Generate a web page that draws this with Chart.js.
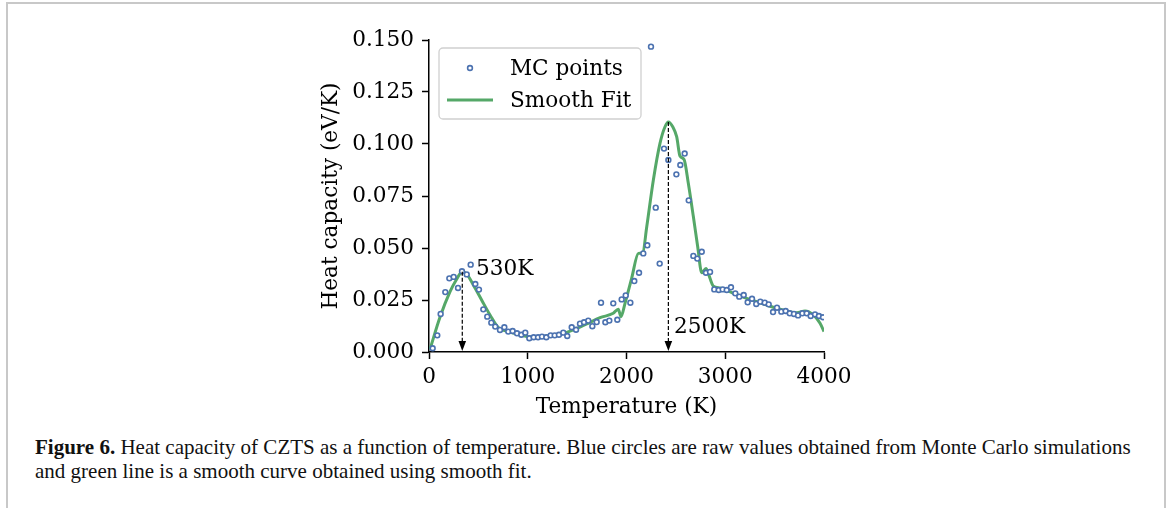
<!DOCTYPE html>
<html>
<head>
<meta charset="utf-8">
<script src="https://cdn.jsdelivr.net/npm/chart.js@4.4.1/dist/chart.umd.min.js"></script>
<style>
    html, body { margin: 0; padding: 0; background: #fff; }
    #page { position: relative; width: 1170px; height: 508px; overflow: hidden; }
    #frame { position: absolute; left: 6px; top: 2px; width: 1156px; height: 520px; border: 2px solid #c8c8c8; }
    #chartBox { position: absolute; left: 0; top: 0; width: 1170px; height: 420px; }
    #caption { position: absolute; left: 35px; top: 435px; font-family: "Liberation Serif", serif; font-size: 19.5px; line-height: 24px; color: #111; white-space: nowrap; }
</style>
</head>
<body>
<div id="page">
    <div id="frame"></div>
    <div id="chartBox"><canvas id="heatChart" width="1170" height="420"></canvas></div>
    <div id="caption"><span id="capLine1"><b>Figure 6.</b> Heat capacity of CZTS as a function of temperature. Blue circles are raw values obtained from Monte Carlo simulations</span><br>and green line is a smooth curve obtained using smooth fit.</div>
</div>
<script>
// MC raw points (temperature in K, heat capacity in eV/K)
const mcTemp = [37, 84, 118, 165, 206, 250, 294, 334, 382, 422,
    469, 506, 550, 590, 631, 671, 719, 763, 803, 847,
    891, 935, 975, 1016, 1060, 1104, 1144, 1188, 1232, 1273,
    1316, 1360, 1400, 1445, 1489, 1529, 1570, 1613, 1654, 1698,
    1742, 1786, 1826, 1866, 1907, 1951, 1992, 2039, 2079, 2127,
    2170, 2211, 2248, 2296, 2336, 2380, 2424, 2505, 2545, 2589,
    2630, 2677, 2717, 2762, 2805, 2846, 2889, 2934, 2974, 3015,
    3058, 3102, 3142, 3187, 3227, 3271, 3314, 3355, 3400, 3440,
    3484, 3524, 3568, 3612, 3653, 3696, 3737, 3781, 3825, 3865,
    3909, 3949, 3990];
const mcHeat = [0.0018, 0.0080, 0.0183, 0.0288, 0.0354, 0.0361, 0.0308, 0.0388, 0.0373, 0.0420,
    0.0327, 0.0300, 0.0205, 0.0170, 0.0141, 0.0122, 0.0106, 0.0119, 0.0098, 0.0101,
    0.0090, 0.0083, 0.0093, 0.0066, 0.0071, 0.0071, 0.0074, 0.0071, 0.0080, 0.0080,
    0.0083, 0.0093, 0.0077, 0.0119, 0.0107, 0.0136, 0.0143, 0.0151, 0.0124, 0.0144,
    0.0237, 0.0143, 0.0151, 0.0234, 0.0155, 0.0253, 0.0272, 0.0237, 0.0341, 0.0381,
    0.0474, 0.0513, 0.1468, 0.0694, 0.0425, 0.0978, 0.0923, 0.0854, 0.0899, 0.0954,
    0.0729, 0.0462, 0.0449, 0.0482, 0.0381, 0.0385, 0.0301, 0.0298, 0.0301, 0.0298,
    0.0311, 0.0282, 0.0266, 0.0274, 0.0239, 0.0256, 0.0231, 0.0242, 0.0237, 0.0229,
    0.0192, 0.0213, 0.0194, 0.0197, 0.0186, 0.0183, 0.0176, 0.0186, 0.0186, 0.0173,
    0.0181, 0.0173, 0.0167];

// Smooth fit curve
const fitTemp = [10, 111, 213, 280, 337, 382, 449, 533, 618, 702,
    803, 922, 1056, 1192, 1327, 1462, 1597, 1732, 1866, 1917,
    1944, 1985, 2052, 2120, 2164, 2205, 2272, 2339, 2390, 2424,
    2468, 2508, 2542, 2583, 2626, 2677, 2721, 2762, 2805, 2828,
    2879, 2947, 3082, 3217, 3352, 3487, 3622, 3723, 3808, 3892,
    3960, 4000];
const fitHeat = [0.0013, 0.0167, 0.0290, 0.0350, 0.0386, 0.0375, 0.0322, 0.0250, 0.0178, 0.0117,
    0.0098, 0.0082, 0.0071, 0.0077, 0.0085, 0.0106, 0.0135, 0.0165, 0.0186, 0.0206,
    0.0170, 0.0234, 0.0354, 0.0474, 0.0477, 0.0602, 0.0827, 0.1003, 0.1083, 0.1106,
    0.1083, 0.1035, 0.0942, 0.0926, 0.0811, 0.0651, 0.0506, 0.0381, 0.0402, 0.0378,
    0.0317, 0.0308, 0.0282, 0.0258, 0.0237, 0.0215, 0.0197, 0.0189, 0.0197, 0.0178,
    0.0138, 0.0098];

// Peak annotations (arrow position, arrow top, label anchor)
const peakLabels = ["530K", "2500K"];
const peakTemp = [337, 2424];
const peakHeat = [0.0386, 0.1106];
const peakTextTemp = [476, 2481];
const peakTextHeat = [0.0399, 0.0120];

const xTicks = [0, 1000, 2000, 3000, 4000];
const yTicks = [0, 0.025, 0.05, 0.075, 0.1, 0.125, 0.15];

const FONT = "DejaVu Serif";
const FSIZE = 21.6;
const BLUE = "#4c72b0";
const GREEN = "#55a868";

// fit caption first line to the reference width
(function () {
    let line = document.getElementById("capLine1");
    let cap = document.getElementById("caption");
    let w = line.getBoundingClientRect().width;
    let fs = 19.5 * 1096 / w;
    cap.style.fontSize = fs + "px";
})();

// Legend box drawn inside the plot, top-left
const legendBoxPlugin = {
    id: "legendBox",
    afterDraw(chart) {
        let ctx = chart.ctx;
        let area = chart.chartArea;
        let x = area.left + 10, y = area.top + 8, w = 202, h = 71;
        ctx.save();
        ctx.beginPath();
        ctx.roundRect(x, y, w, h, 4);
        ctx.fillStyle = "rgba(255,255,255,0.8)";
        ctx.fill();
        ctx.strokeStyle = "#d0d0d0";
        ctx.lineWidth = 1.3;
        ctx.stroke();

        ctx.font = FSIZE + "px '" + FONT + "'";
        ctx.textBaseline = "middle";
        ctx.fillStyle = "#000";
        chart.data.datasets.forEach((ds, i) => {
            let cy = y + 20 + i * 32;
            if (ds.showLine) {
                ctx.beginPath();
                ctx.moveTo(x + 8, cy);
                ctx.lineTo(x + 54, cy);
                ctx.strokeStyle = ds.borderColor;
                ctx.lineWidth = ds.borderWidth;
                ctx.stroke();
            } else {
                ctx.beginPath();
                ctx.arc(x + 31, cy, ds.pointRadius, 0, Math.PI * 2);
                ctx.fillStyle = "#fff";
                ctx.fill();
                ctx.strokeStyle = ds.borderColor;
                ctx.lineWidth = ds.borderWidth;
                ctx.stroke();
            }
            ctx.fillStyle = "#000";
            ctx.fillText(ds.label, x + 71, cy + 1);
        });
        ctx.restore();
    }
};

// Dashed arrows pointing at the peaks
const peakArrowPlugin = {
    id: "peakArrows",
    afterDatasetsDraw(chart) {
        let ctx = chart.ctx;
        let xs = chart.scales.x, ys = chart.scales.y;
        ctx.save();
        peakLabels.forEach((label, i) => {
            let px = xs.getPixelForValue(peakTemp[i]);
            let top = ys.getPixelForValue(peakHeat[i]);
            let bottom = ys.getPixelForValue(0);
            ctx.beginPath();
            ctx.setLineDash([4, 2]);
            ctx.strokeStyle = "#000";
            ctx.lineWidth = 1.2;
            ctx.moveTo(px, top);
            ctx.lineTo(px, bottom - 9);
            ctx.stroke();
            ctx.setLineDash([]);
            ctx.beginPath();
            ctx.moveTo(px, bottom - 1);
            ctx.lineTo(px - 3.8, bottom - 11);
            ctx.lineTo(px + 3.8, bottom - 11);
            ctx.closePath();
            ctx.fillStyle = "#000";
            ctx.fill();

            ctx.font = FSIZE + "px '" + FONT + "'";
            ctx.textBaseline = "middle";
            ctx.textAlign = "left";
            ctx.fillText(label, xs.getPixelForValue(peakTextTemp[i]), ys.getPixelForValue(peakTextHeat[i]));
        });
        ctx.restore();
    }
};

let ctx = document.getElementById("heatChart").getContext("2d");
let heatChart = new Chart(ctx, {
    type: "scatter",
    data: {
        datasets: [{
            label: "MC points",
            data: mcTemp.map((t, i) => ({ x: t, y: mcHeat[i] })),
            showLine: false,
            borderColor: BLUE,
            backgroundColor: "#fff",
            borderWidth: 1.6,
            pointRadius: 2.4,
            pointHoverRadius: 2.4
        }, {
            label: "Smooth Fit",
            data: fitTemp.map((t, i) => ({ x: t, y: fitHeat[i] })),
            showLine: true,
            borderColor: GREEN,
            borderWidth: 3,
            pointRadius: 0,
            cubicInterpolationMode: "monotone",
            fill: false
        }]
    },
    options: {
        responsive: false,
        animation: false,
        layout: { padding: { left: 317, right: 346, top: 40, bottom: 0 } },
        plugins: {
            legend: { display: false },
            tooltip: { enabled: false }
        },
        scales: {
            x: {
                type: "linear",
                min: xTicks[0],
                max: xTicks[xTicks.length - 1],
                afterBuildTicks: (s) => { s.ticks = xTicks.map(v => ({ value: v })); },
                afterFit: (s) => { s.height = 68; },
                ticks: {
                    color: "#000",
                    font: { family: FONT, size: FSIZE },
                    padding: 5,
                    maxRotation: 0,
                    callback: (v) => String(v)
                },
                grid: { drawOnChartArea: false, drawTicks: true, tickLength: 7, tickWidth: 1.5, tickColor: "#000" },
                border: { color: "#000", width: 1.5 },
                title: {
                    display: true,
                    text: "Temperature (K)",
                    color: "#000",
                    font: { family: FONT, size: FSIZE },
                    padding: { top: 2, bottom: 0 }
                }
            },
            y: {
                min: yTicks[0],
                max: yTicks[yTicks.length - 1],
                afterBuildTicks: (s) => { s.ticks = yTicks.map(v => ({ value: v })); },
                afterFit: (s) => { s.width = 112; },
                ticks: {
                    color: "#000",
                    font: { family: FONT, size: FSIZE },
                    padding: 8,
                    callback: (v) => Number(v).toFixed(3)
                },
                grid: { drawOnChartArea: false, drawTicks: true, tickLength: 7, tickWidth: 1.5, tickColor: "#000" },
                border: { color: "#000", width: 1.5 },
                title: {
                    display: true,
                    text: "Heat capacity (eV/K)",
                    color: "#000",
                    font: { family: FONT, size: FSIZE },
                    padding: { top: 1, bottom: 0 }
                }
            }
        }
    },
    plugins: [peakArrowPlugin, legendBoxPlugin]
});
</script>
</body>
</html>
